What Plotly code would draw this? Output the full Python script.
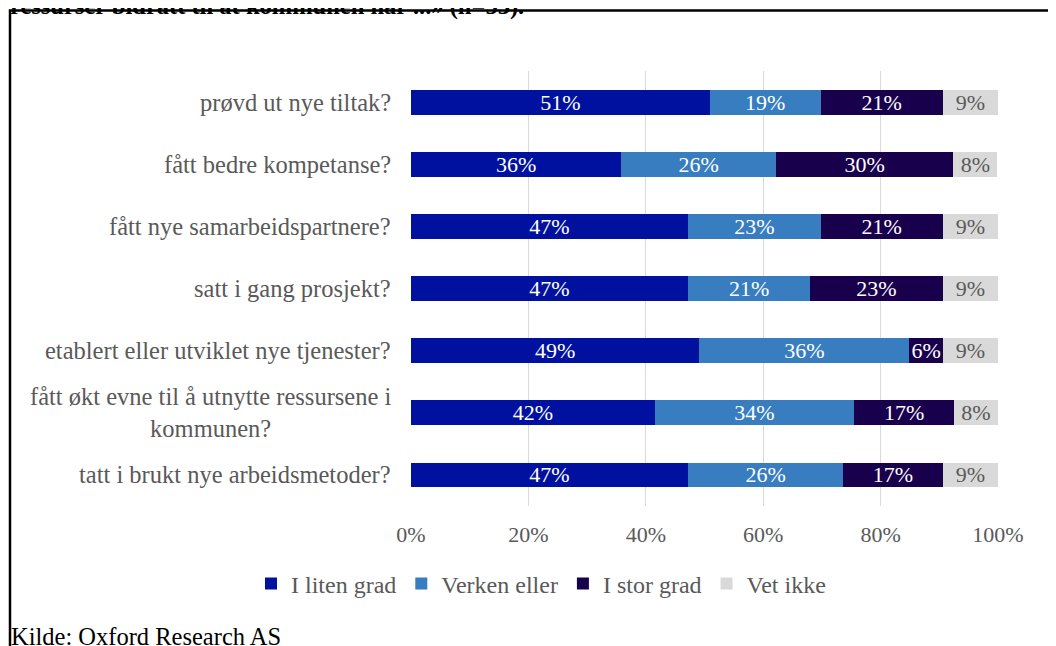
import plotly.graph_objects as go

categories = [
    "prøvd ut nye tiltak?",
    "fått bedre kompetanse?",
    "fått nye samarbeidspartnere?",
    "satt i gang prosjekt?",
    "etablert eller utviklet nye tjenester?",
    "fått økt evne til å utnytte ressursene i<br>kommunen?",
    "tatt i brukt nye arbeidsmetoder?",
]
series_names = ["I liten grad", "Verken eller", "I stor grad", "Vet ikke"]
liten = [50.9, 35.8, 47.2, 47.2, 49.1, 41.5, 47.2]
verken = [18.9, 26.4, 22.6, 20.8, 35.8, 34.0, 26.4]
stor = [20.8, 30.2, 20.8, 22.6, 5.7, 17.0, 17.0]
vet = [9.4, 7.5, 9.4, 9.4, 9.4, 7.5, 9.4]
colors = ["#0011A0", "#377DBF", "#19004C", "#D9D9D9"]
text_colors = ["white", "white", "white", "#595959"]
x_ticks = [0, 20, 40, 60, 80, 100]
x_ticklabels = ["0%", "20%", "40%", "60%", "80%", "100%"]
title_text = "ressurser bidratt til at kommunen har ...» (n=53)."
source_text = "Kilde: Oxford Research AS"

FONT = "Liberation Serif, Times New Roman, serif"
GREY = "#595959"

fig = go.Figure()
for name, vals, col, tcol in zip(series_names, [liten, verken, stor, vet], colors, text_colors):
    fig.add_trace(go.Bar(
        y=categories, x=vals, name=name, orientation="h",
        marker=dict(color=col, line=dict(width=0)),
        texttemplate="%{x:.0f}%", textposition="inside",
        insidetextanchor="middle", constraintext="none",
        textfont=dict(family=FONT, size=22, color=tcol),
        hoverinfo="skip",
    ))

# the page body has an 8px margin, so figure coords = window coords - 8
W, H = 1056, 646
L, R, T, B = 403, 66, 63, 148
pw, ph = W - L - R, H - T - B

def px_x(x):
    return (x - L) / pw

def px_y(y):
    return (H - B - y) / ph

for c in categories:
    fig.add_annotation(
        x=px_x(385), xref="paper", y=c, yref="y",
        text=c, showarrow=False, xanchor="right", yanchor="middle",
        align="center", font=dict(family=FONT, size=24.5, color=GREY),
    )

fig.add_annotation(
    x=px_x(0), xref="paper", y=px_y(-2), yref="paper", text="<b>" + title_text + "</b>",
    showarrow=False, xanchor="left", yanchor="middle",
    font=dict(family=FONT, size=24.5, color="black"),
)
fig.add_annotation(
    x=px_x(1), xref="paper", y=px_y(628), yref="paper", text=source_text,
    showarrow=False, xanchor="left", yanchor="middle",
    font=dict(family=FONT, size=24.5, color="black"),
)

fig.add_shape(type="rect", xref="paper", yref="paper",
              x0=px_x(2), x1=px_x(1100), y0=px_y(700), y1=px_y(2.5),
              line=dict(color="black", width=2.5), layer="above")

fig.update_layout(
    width=W, height=H,
    margin=dict(l=L, r=R, t=T, b=B, autoexpand=False),
    barmode="stack", bargap=0.6,
    plot_bgcolor="white", paper_bgcolor="white",
    font=dict(family=FONT, size=22, color=GREY),
    uniformtext=dict(minsize=22, mode="show"),
    xaxis=dict(range=[0, 100], tickvals=x_ticks, ticktext=x_ticklabels,
               showgrid=True, gridcolor="#D9D9D9", gridwidth=1.3,
               zeroline=False, showline=False, ticks="",
               ticklabelstandoff=13, tickfont=dict(size=22, color=GREY),
               fixedrange=True),
    yaxis=dict(autorange="reversed", showticklabels=False, showgrid=False,
               zeroline=False, showline=False, ticks="", fixedrange=True),
    legend=dict(orientation="h", x=px_x(533), xanchor="center",
                y=px_y(576), yanchor="middle",
                font=dict(family=FONT, size=24, color=GREY),
                traceorder="normal", itemclick=False, itemdoubleclick=False),
    showlegend=True,
)

fig.write_html("out.html", config={"displayModeBar": False})
